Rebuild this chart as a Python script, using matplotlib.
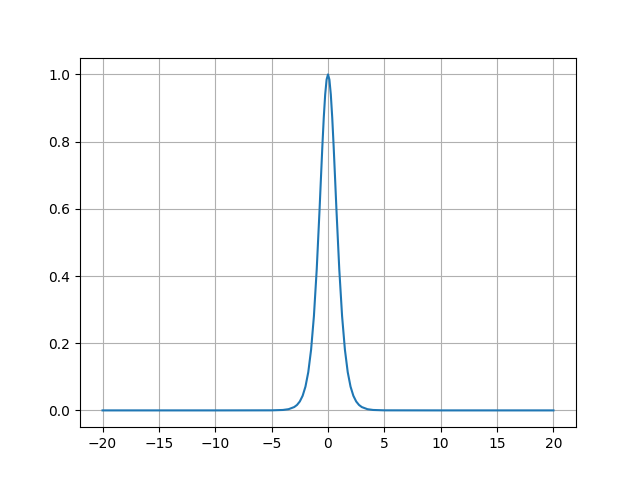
import matplotlib.pyplot as plt

# Points (symmetric peak at x = 0)
x_vals = [-20, -10, -5, -4, -3.5, -3, -2.75, -2.5, -2.25, -2, -1.75, -1.5, -1.25, -1,
          -0.75, -0.625, -0.5, -0.375, -0.25, -0.125, 0, 0.125, 0.25, 0.375, 0.5,
          0.625, 0.75, 1, 1.25, 1.5, 1.75, 2, 2.25, 2.5, 2.75, 3, 3.5, 4, 5, 10, 20]
y_vals = [0.0, 0.0, 0.0002, 0.0013, 0.0036, 0.0099, 0.0162, 0.0266, 0.0435, 0.0707,
          0.1138, 0.1807, 0.2804, 0.42, 0.5966, 0.6924, 0.7864, 0.8716, 0.94, 0.9845,
          1.0, 0.9845, 0.94, 0.8716, 0.7864, 0.6924, 0.5966, 0.42, 0.2804, 0.1807,
          0.1138, 0.0707, 0.0435, 0.0266, 0.0162, 0.0099, 0.0036, 0.0013, 0.0002,
          0.0, 0.0]

fig, ax = plt.subplots(figsize=(6.4, 4.8), dpi=100)
ax.plot(x_vals, y_vals)
ax.grid(True)
fig.savefig("out.png")
